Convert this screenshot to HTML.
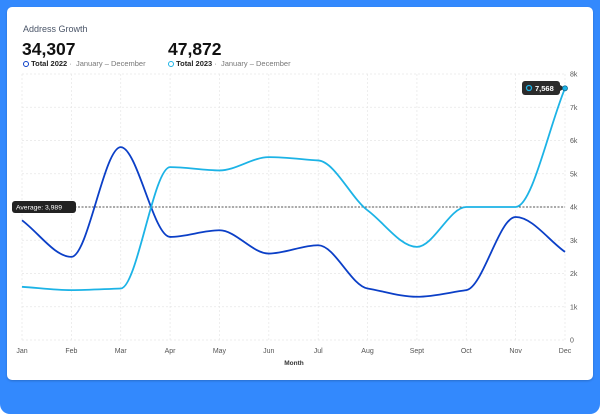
<!DOCTYPE html>
<html><head><style>
body{margin:0;width:600px;height:414px;background:#fff;font-family:"Liberation Sans",sans-serif;overflow:hidden}
.bg{position:absolute;left:0;top:0;width:600px;height:414px;background:#3389fd;border-radius:0 0 10px 10px}
.card{position:absolute;left:7px;top:7px;width:586px;height:373px;background:#fff;border-radius:5px;box-shadow:0 1px 2px rgba(0,0,0,.2)}
.t{position:absolute;font-size:9px;color:#4a5568}
.big{position:absolute;font-size:17.5px;font-weight:bold;color:#111}
.sub{position:absolute;font-size:7.5px;color:#222;font-weight:bold}
.sub span{color:#777;font-weight:normal}
</style></head><body>
<div class="bg"></div><div class="card"></div>
<div class="t" style="left:23px;top:24px">Address Growth</div>
<div class="big" style="left:22px;top:39px">34,307</div>
<div class="big" style="left:168px;top:39px">47,872</div>
<div class="sub" style="left:23px;top:59px"><b style="display:inline-block;width:4px;height:4px;border:1.5px solid #0b3fc7;border-radius:50%;vertical-align:-1px"></b> Total 2022 <span>· &nbsp;January – December</span></div>
<div class="sub" style="left:168px;top:59px"><b style="display:inline-block;width:4px;height:4px;border:1.5px solid #1cb3e6;border-radius:50%;vertical-align:-1px"></b> Total 2023 <span>· &nbsp;January – December</span></div>
<svg id="s" width="600" height="414" style="position:absolute;left:0;top:0" font-family="Liberation Sans" font-size="7" fill="#555"></svg>
<script>
const s=document.getElementById('s');let h='';
const x0=22,dx=543/11,y0=340,k=33.25;
const X=i=>x0+i*dx,Y=v=>y0-v*k;
for(let i=0;i<12;i++)h+=`<line x1="${X(i)}" x2="${X(i)}" y1="74" y2="340" stroke="#e6e6e6" stroke-dasharray="2 2" stroke-width="0.7"/>`;
for(let v=0;v<=8;v++){h+=`<line x1="22" x2="565" y1="${Y(v)}" y2="${Y(v)}" stroke="#e6e6e6" stroke-dasharray="2 2" stroke-width="0.7"/>`;
h+=`<text x="570" y="${Y(v)+2.5}">${v?v+'k':'0'}</text>`;}
const m=['Jan','Feb','Mar','Apr','May','Jun','Jul','Aug','Sept','Oct','Nov','Dec'];
m.forEach((t,i)=>h+=`<text x="${X(i)}" y="353" text-anchor="middle">${t}</text>`);
h+=`<text x="294" y="365" text-anchor="middle" font-weight="bold" fill="#333" font-size="6.5">Month</text>`;
function path(d){const n=d.length,p=d.map((v,i)=>[X(i),Y(v)]);
const sl=[];for(let i=0;i<n-1;i++)sl.push((p[i+1][1]-p[i][1])/dx);
const t=[];for(let i=0;i<n;i++){if(i==0)t.push(sl[0]);else if(i==n-1)t.push(sl[n-2]);else{const a=sl[i-1],b=sl[i];t.push(a*b<=0?0:(Math.sign(a)*Math.min(Math.abs(a),Math.abs(b),0.5*Math.abs(a+b))));}}
let r=`M${p[0]}`;for(let i=0;i<n-1;i++){const b=p[i],c=p[i+1];r+=`C${b[0]+dx/3},${b[1]+t[i]*dx/3} ${c[0]-dx/3},${c[1]-t[i+1]*dx/3} ${c[0]},${c[1]}`;}return r;}
h+=`<line x1="22" x2="565" y1="207" y2="207" stroke="#222" stroke-dasharray="2 1.5" stroke-width="0.8"/>`;
h+=`<path d="${path([3.6,2.5,5.8,3.1,3.3,2.6,2.85,1.55,1.3,1.5,3.7,2.65])}" fill="none" stroke="#0b3fc7" stroke-width="1.8"/>`;
h+=`<path d="${path([1.6,1.5,1.55,5.2,5.1,5.5,5.4,3.9,2.8,4.0,4.0,7.57])}" fill="none" stroke="#1cb3e6" stroke-width="1.8"/>`;
h+=`<rect x="12" y="201" width="64" height="12" rx="3" fill="#222"/><text x="16" y="209.5" fill="#fff" font-size="6.8">Average: 3,989</text>`;
h+=`<rect x="522" y="81" width="38" height="14" rx="3" fill="#2b2b2b"/><path d="M560 85 L565 88 L560 91Z" fill="#2b2b2b"/><circle cx="529" cy="88" r="2.5" fill="none" stroke="#1cb3e6" stroke-width="1.3"/><text x="535" y="91" fill="#fff" font-size="7.5" font-weight="bold">7,568</text>`;
h+=`<circle cx="565" cy="${Y(7.57)}" r="2.5" fill="#1cb3e6" stroke="#0b6f99" stroke-width="0.8"/>`;
s.innerHTML=h;
</script>
</body></html>
